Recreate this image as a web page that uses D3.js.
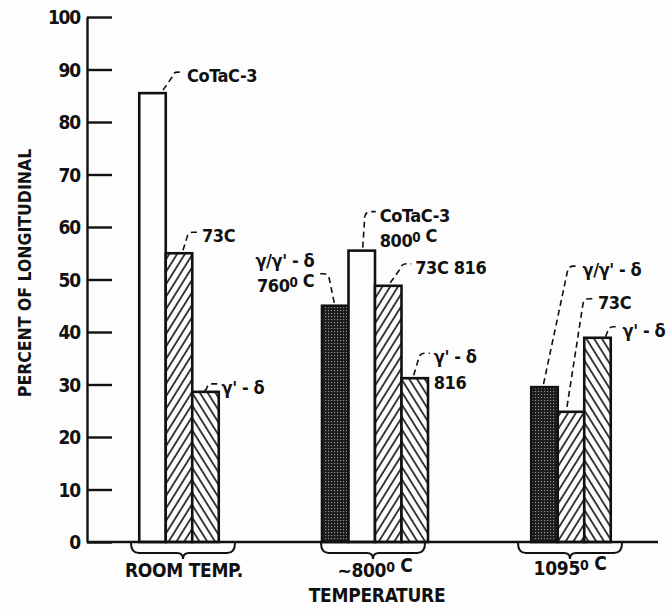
<!DOCTYPE html>
<html>
<head>
<meta charset="utf-8">
<script src="https://cdn.jsdelivr.net/npm/d3@7"></script>
<style>
  html, body { margin: 0; padding: 0; background: #fdfdfd; }
  svg { display: block; }
  text { font-family: "DejaVu Sans Condensed", "Liberation Sans Narrow", "DejaVu Sans", sans-serif; fill: #111; }
</style>
</head>
<body>
<div id="chart"></div>
<script>
// ---------- data ----------
const groupKeys   = ["room", "800", "1095"];
const groupLabels = ["ROOM TEMP.", "~800", "1095"];
const groupSup    = ["", "0", "0"];
const groupSuffix = ["", " C", " C"];
const xTitle = "TEMPERATURE";
const yTitle = "PERCENT OF LONGITUDINAL";
const yTicks = [0, 10, 20, 30, 40, 50, 60, 70, 80, 90, 100];

const barGroup    = ["room", "room", "room", "800", "800", "800", "800", "1095", "1095", "1095"];
const barMaterial = ["CoTaC-3", "73C", "γ'-δ", "γ/γ'-δ", "CoTaC-3", "73C", "γ'-δ", "γ/γ'-δ", "73C", "γ'-δ"];
const barValues   = [85.5, 55, 28.6, 45, 55.5, 48.8, 31.2, 29.5, 24.8, 38.9];
// label lines per bar (superscript degree written between |...|)
const barLabel1   = ["CoTaC-3", "73C", "γ' - δ", "γ/γ' - δ", "CoTaC-3", "73C 816", "γ' - δ", "γ/γ' - δ", "73C", "γ' - δ"];
const barLabel2   = ["", "", "", "760|0| C", "800|0| C", "", "816", "", "", ""];

// ---------- layout ----------
const W = 671, H = 611;
const svg = d3.select("#chart").append("svg").attr("width", W).attr("height", H);
const defs = svg.append("defs");

const y = d3.scaleLinear().domain([0, 100]).range([542, 17]);
const xg = d3.scalePoint().domain(groupKeys).range([81, 669]).padding(0.5);
const bw = 26.5;
const axisX = 87;

// patterns
function hatch(id, angle) {
  const p = defs.append("pattern").attr("id", id).attr("patternUnits", "userSpaceOnUse")
    .attr("width", 6.6).attr("height", 10).attr("patternTransform", `rotate(${angle})`);
  p.append("rect").attr("width", 6.6).attr("height", 10).attr("fill", "#fdfdfd");
  p.append("line").attr("x1", 1).attr("y1", -1).attr("x2", 1).attr("y2", 11)
    .attr("stroke", "#111").attr("stroke-width", 1.6);
}
hatch("fwd", 32);
hatch("bwd", -32);
const dp = defs.append("pattern").attr("id", "dots").attr("patternUnits", "userSpaceOnUse")
  .attr("width", 3).attr("height", 3);
dp.append("rect").attr("width", 3).attr("height", 3).attr("fill", "#1c1c1c");
dp.append("rect").attr("x", 1).attr("y", 1).attr("width", 1.1).attr("height", 1.1).attr("fill", "#9a9a9a");

const fillFor = {"CoTaC-3": "#fdfdfd", "73C": "url(#fwd)", "γ'-δ": "url(#bwd)", "γ/γ'-δ": "url(#dots)"};

// bars
const bars = barValues.map((v, i) => {
  const g = barGroup[i];
  const members = barGroup.map((gg, j) => gg === g ? j : -1).filter(j => j >= 0);
  const k = members.indexOf(i), n = members.length;
  const cx = xg(g) + (k - (n - 1) / 2) * bw;
  return {i, v, g, cx, x0: cx - bw / 2, yt: y(v)};
});

svg.append("g").selectAll("rect").data(bars).join("rect")
  .attr("x", d => d.x0).attr("y", d => d.yt)
  .attr("width", bw).attr("height", d => y(0) - d.yt)
  .attr("fill", d => fillFor[barMaterial[d.i]])
  .attr("stroke", "#111").attr("stroke-width", 2.6);

// y axis (ticks point right)
const yAxis = d3.axisLeft(y).tickValues(yTicks).tickSize(-25).tickSizeOuter(0).tickPadding(7);
const ya = svg.append("g").attr("transform", `translate(${axisX},0)`).call(yAxis);
ya.select(".domain").attr("stroke", "#111").attr("stroke-width", 2.4);
ya.selectAll(".tick line").attr("stroke", "#111").attr("stroke-width", 2.4);
ya.selectAll(".tick text").attr("font-size", 19).attr("font-weight", "bold").attr("fill", "#111")
  .attr("letter-spacing", -1.2).attr("dy", "0.36em").attr("font-family", null);

// x axis baseline
svg.append("line").attr("x1", axisX).attr("x2", 658).attr("y1", y(0)).attr("y2", y(0))
  .attr("stroke", "#111").attr("stroke-width", 2.4);

// y title
svg.append("text").attr("transform", `translate(31,273) rotate(-90)`)
  .attr("text-anchor", "middle").attr("font-size", 17.5).attr("font-weight", "bold")
  .text(yTitle);

// braces
const braceHalf = 52;
svg.append("g").selectAll("path").data(groupKeys).join("path")
  .attr("d", g => {
    const m = xg(g) + (g === "room" ? 4 : (g === "800" ? -2 : -1));
    const a = m - braceHalf, b = m + braceHalf, t = y(0) + 1, yb = t + 10, tip = t + 16;
    return `M${a},${t} Q${a},${yb} ${a + 8},${yb} L${m - 6},${yb} Q${m},${yb} ${m},${tip} Q${m},${yb} ${m + 6},${yb} L${b - 8},${yb} Q${b},${yb} ${b},${t}`;
  })
  .attr("fill", "none").attr("stroke", "#111").attr("stroke-width", 2);

// text with raised degree "0"
function supText(sel, parts, size) {
  parts.forEach((p, j) => {
    if (j % 2 === 1) {
      sel.append("tspan").attr("dy", -5.5).attr("font-size", size * 0.74).text(p);
      sel.append("tspan").attr("dy", 5.5).text("");
    } else sel.append("tspan").text(p);
  });
}
const gl = svg.append("g").selectAll("text").data(groupKeys).join("text")
  .attr("x", (g, i) => xg(g) + [5, 0, -1][i]).attr("y", (g, i) => [577, 577, 575][i])
  .attr("text-anchor", "middle").attr("font-size", 19).attr("font-weight", "bold")
  .attr("letter-spacing", -0.3);
gl.each(function (g, i) {
  supText(d3.select(this), [groupLabels[i], groupSup[i], groupSuffix[i]].filter((s, j) => j === 0 || groupSup[i] !== ""), 19);
});
svg.append("text").attr("x", xg("800") + 2).attr("y", 602).attr("text-anchor", "middle")
  .attr("font-size", 19).attr("font-weight", "bold").attr("letter-spacing", -0.3).text(xTitle);

// annotation leaders: start offset, knee offset (relative to bar top centre), direction
const annStart = [[10.5, -3], [4, -3], [-1, -1], [-1, -3], [1, -3], [2, -3], [-1, -3], [-1, -3], [-4, -5], [8, -1]];
const annKnee  = [[19.5, -16], [8, -16], [1, -3], [-6, -27], [3, -34], [12, -17], [4, -20], [23, -116], [12, -108], [10, -6]];
const annDir   = [1, 1, 1, -1, 1, 1, 1, 1, 1, 1];

const ann = svg.append("g");
bars.forEach((d, i) => {
  const s = [d.cx + annStart[i][0], d.yt + annStart[i][1]];
  const k = [d.cx + annKnee[i][0], d.yt + annKnee[i][1]];
  const dir = annDir[i];
  const hy = k[1] - 5;
  ann.append("path")
    .attr("d", `M${s[0]},${s[1]} L${k[0]},${k[1]} Q${k[0] + dir},${hy} ${k[0] + 6 * dir},${hy} L${k[0] + 11 * dir},${hy}`)
    .attr("fill", "none").attr("stroke", "#111").attr("stroke-width", 1.6)
    .attr("stroke-dasharray", "6,4");
  const tx = k[0] + 15 * dir;
  const lines = [barLabel1[i], barLabel2[i]].filter(s => s);
  const base1 = dir === 1 ? k[1] + 5 : k[1] - 12;
  lines.forEach((ln, j) => {
    const t = ann.append("text").attr("x", tx).attr("y", base1 + j * 25.5)
      .attr("text-anchor", dir === 1 ? "start" : "end")
      .attr("font-size", 18).attr("font-weight", "bold").attr("letter-spacing", -0.4);
    supText(t, ln.split("|"), 18);
  });
});
</script>
</body>
</html>
